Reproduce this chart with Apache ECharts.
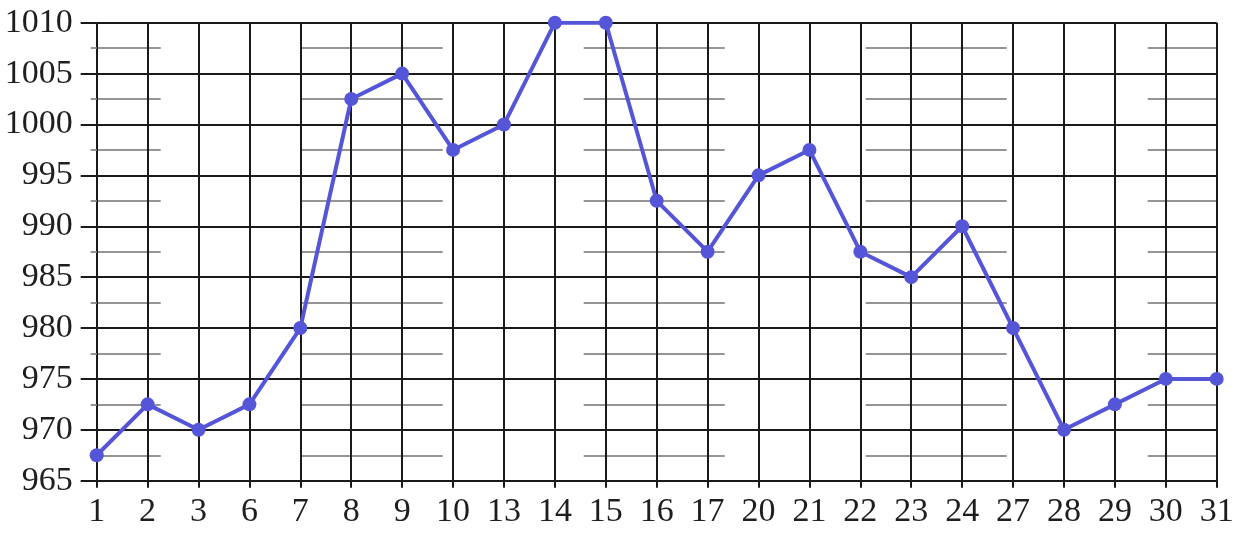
<!DOCTYPE html>
<html><head><meta charset="utf-8">
<script src="https://cdn.jsdelivr.net/npm/echarts@6/dist/echarts.min.js"></script>
<style>html,body{margin:0;padding:0;background:#fff}#c{width:1238px;height:538px}</style>
</head><body><div id="c"></div>
<script>
const categories = ['1','2','3','6','7','8','9','10','13','14','15','16','17','20','21','22','23','24','27','28','29','30','31'];
const values = [967.5,972.5,970,972.5,980,1002.5,1005,997.5,1000,1010,1010,992.5,987.5,995,997.5,987.5,985,990,980,970,972.5,975,975];
const yMin = 965, yMax = 1010, yStep = 5;

const chart = echarts.init(document.getElementById('c'), null, {renderer:'canvas'});
const font = 'Liberation Serif';
const black = '#1a1a1a';
chart.setOption({
  animation:false,
  grid:{left:96.7, right:21.3, top:22.7, bottom:57.3, containLabel:false},
  xAxis:{
    type:'category', data:categories, boundaryGap:false,
    axisLine:{show:true, lineStyle:{color:black, width:2}},
    axisTick:{show:true, length:7, lineStyle:{color:black, width:2}},
    axisLabel:{color:'#1e1e1e', fontFamily:font, fontSize:34, margin:14},
    splitLine:{show:true, lineStyle:{color:black, width:2}}
  },
  yAxis:{
    type:'value', min:yMin, max:yMax, interval:yStep,
    axisLine:{show:false},
    axisTick:{show:true, length:16, lineStyle:{color:black, width:2}},
    axisLabel:{color:'#1e1e1e', fontFamily:font, fontSize:34, margin:24, formatter:(v)=>String(v)},
    splitLine:{show:true, lineStyle:{color:black, width:2}},
    minorTick:{show:true, splitNumber:2, length:6, lineStyle:{color:'#959595', width:2}},
    minorSplitLine:{show:true, lineStyle:{color:'#959595', width:2, type:[141,141], dashOffset:77}}
  },
  series:[{
    type:'line', data:values, symbol:'circle', symbolSize:14,
    lineStyle:{color:'#5555d8', width:4}, itemStyle:{color:'#5555d8'},
    z:5
  }]
});
</script></body></html>
